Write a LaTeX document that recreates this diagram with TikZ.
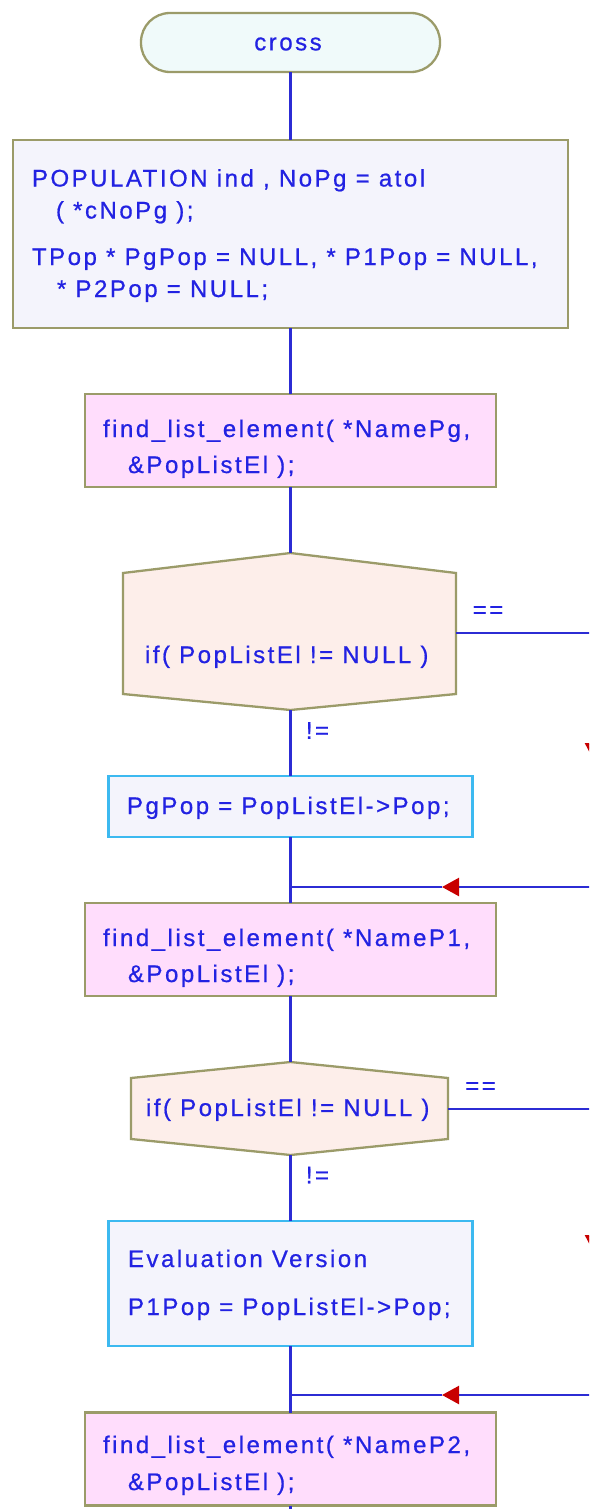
\documentclass[tikz,border=0pt]{standalone}
\usepackage{fontspec}
\setmainfont[LetterSpace=10.5,FakeBold=0.7]{Liberation Sans}
\usetikzlibrary{arrows.meta}
\definecolor{txtblue}{RGB}{34,34,226}
\definecolor{wireblue}{RGB}{44,44,212}
\definecolor{olivebd}{RGB}{155,155,105}
\definecolor{termfill}{RGB}{240,250,250}
\definecolor{lavfill}{RGB}{244,244,252}
\definecolor{pinkfill}{RGB}{255,221,252}
\definecolor{peachfill}{RGB}{253,238,234}
\definecolor{skybd}{RGB}{60,185,240}
\definecolor{tipred}{RGB}{200,0,0}
\begin{document}
\begin{tikzpicture}[x=1pt,y=-1pt,
  every node/.style={inner sep=0pt, outer sep=0pt},
  wire/.style={draw=wireblue, line width=2.3pt},
  frame/.style={draw=olivebd, line width=2.3pt},
  termbox/.style={frame, fill=termfill, rounded corners=29pt, minimum width=299pt, minimum height=59pt},
  declbox/.style={frame, fill=lavfill, minimum width=555pt, minimum height=188pt},
  callbox/.style={frame, fill=pinkfill, minimum width=411pt, minimum height=93pt},
  stmtbox/.style={draw=skybd, line width=2.3pt, fill=lavfill, minimum width=364pt},
  ifbox/.style={frame, fill=peachfill},
  code/.style={text=txtblue, font=\fontsize{24}{28}\selectfont, anchor=base west},
  tag/.style={text=txtblue, font=\fontsize{24}{28}\selectfont},
  backtip/.style={-{Triangle[length=17pt,width=18pt,color=tipred,fill=tipred]}},
  downtip/.style={-{Triangle[length=16pt,width=16pt,color=tipred,fill=tipred]}},
]
\useasboundingbox (0,0) rectangle (589,1509);
\clip (0,0) rectangle (589,1509);

% blocks of the main column, all centred on the same vertical axis
\node[termbox] (term) at (290.5,42.5) {};
\node[declbox] (decl) at (290.5,234) {};
\node[callbox] (call1) at (290.5,440.5) {};
\node[stmtbox, minimum height=61pt] (stmt1) at (290.5,806.5) {};
\node[callbox] (call2) at (290.5,949.5) {};
\node[stmtbox, minimum height=125pt] (stmt2) at (290.5,1283.5) {};
\node[callbox] (call3) at (290.5,1459) {};

% decision hexagons
\coordinate (d1n) at (290.5,553);  \coordinate (d1ne) at (456,573);
\coordinate (d1se) at (456,694); \coordinate (d1s) at (290.5,710);
\coordinate (d1sw) at (123,694); \coordinate (d1nw) at (123,573);
\coordinate (d1e) at (456,633);
\path[ifbox] (d1nw) -- (d1n) -- (d1ne) -- (d1se) -- (d1s) -- (d1sw) -- cycle;

\coordinate (d2n) at (290.5,1062);  \coordinate (d2ne) at (448,1078);
\coordinate (d2se) at (448,1139); \coordinate (d2s) at (290.5,1155);
\coordinate (d2sw) at (131,1139); \coordinate (d2nw) at (131,1078);
\coordinate (d2e) at (448,1109);
\path[ifbox] (d2nw) -- (d2n) -- (d2ne) -- (d2se) -- (d2s) -- (d2sw) -- cycle;

% texts
\node[tag] (ttl) at (288,44) {cross};
\node[code] (t1a) at (32,186.5) {POPULATION ind , NoPg = atol};
\node[code] (t1b) at (56,218.5) {( *cNoPg );};
\node[code] (t1c) at (32,265) {TPop * PgPop = NULL, * P1Pop = NULL,};
\node[code] (t1d) at (57,297) {* P2Pop = NULL;};
\node[code] (t2a) at (103,437) {find\_list\_element( *NamePg,};
\node[code] (t2b) at (128,473) {\&PopListEl );};
\node[code] (t3) at (145,663) {if( PopListEl != NULL )};
\node[code] (t4) at (127,814) {PgPop = PopListEl->Pop;};
\node[code] (t5a) at (103,946) {find\_list\_element( *NameP1,};
\node[code] (t5b) at (128,982) {\&PopListEl );};
\node[code] (t6) at (146,1116) {if( PopListEl != NULL )};
\node[code] (t7a) at (128,1267) {Evaluation Version};
\node[code] (t7b) at (128,1315) {P1Pop = PopListEl->Pop;};
\node[code] (t8a) at (103,1453) {find\_list\_element( *NameP2,};
\node[code] (t8b) at (128,1490) {\&PopListEl );};

% branch labels
\node[tag] (eq1) at (488,612) {==};
\node[tag] (ne1) at (317.5,730.5) {!=};
\node[tag] (eq2) at (480.5,1088) {==};
\node[tag] (ne2) at (317.5,1175) {!=};

% main column connectors
\coordinate (tail) at (290.5,1512);
\draw[wire] (term.south) -- (decl.north);
\draw[wire] (decl.south) -- (call1.north);
\draw[wire] (call1.south) -- (d1n);
\draw[wire] (d1s) -- (stmt1.north);
\draw[wire] (stmt1.south) -- (call2.north);
\draw[wire] (call2.south) -- (d2n);
\draw[wire] (d2s) -- (stmt2.north);
\draw[wire] (stmt2.south) -- (call3.north);
\draw[wire] (call3.south) -- (tail);

% "==" branches leaving to the right
\coordinate (o1) at (593,633);  \coordinate (r1) at (593,759);
\coordinate (o2) at (593,1109); \coordinate (r2) at (593,1251);
\draw[wire, downtip] (d1e) -- (o1) -- (r1);
\draw[wire, downtip] (d2e) -- (o2) -- (r2);

% branches joining back into the column
\coordinate (e1) at (600,887);  \coordinate (m1) at (442,887);  \coordinate (j1) at (290.5,887);
\coordinate (e2) at (600,1395); \coordinate (m2) at (442,1395); \coordinate (j2) at (290.5,1395);
\draw[wire, backtip] (e1) -- (m1);
\draw[wire] (m1) -- (j1);
\draw[wire, backtip] (e2) -- (m2);
\draw[wire] (m2) -- (j2);
\end{tikzpicture}
\end{document}
